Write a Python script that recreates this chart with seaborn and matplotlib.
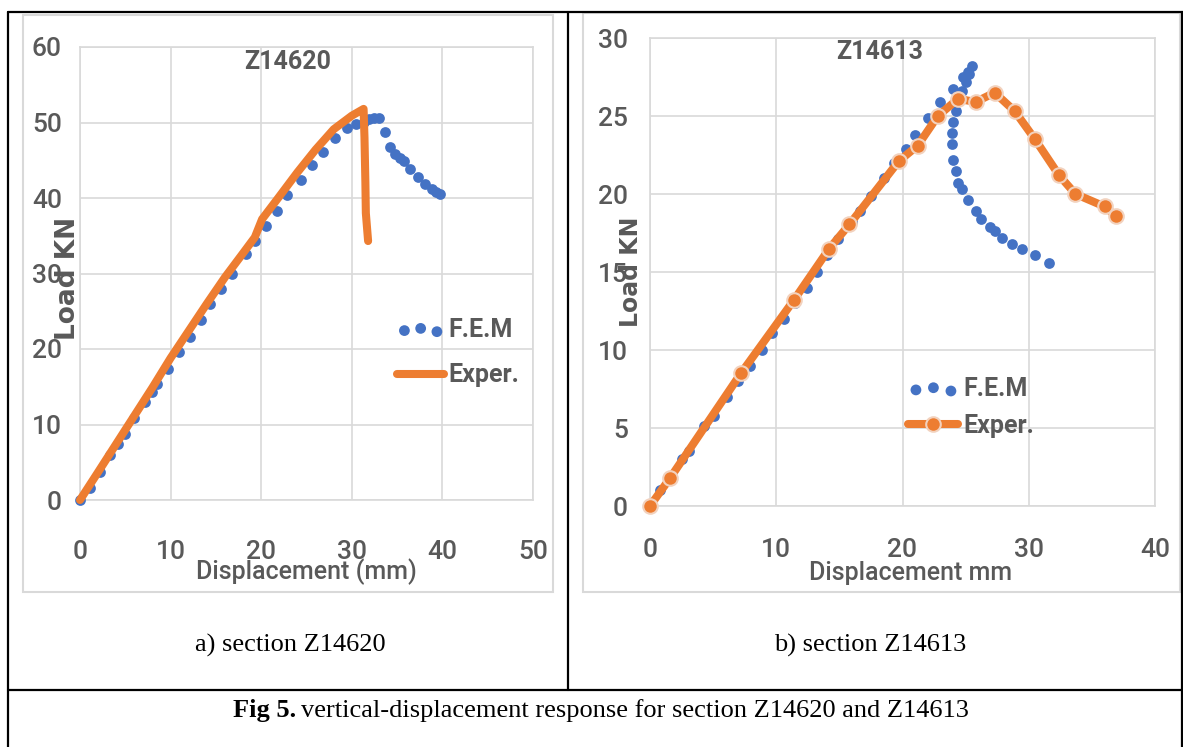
import matplotlib
matplotlib.use("Agg")
import matplotlib.pyplot as plt
import seaborn as sns
import pandas as pd
from matplotlib.lines import Line2D
from matplotlib.patches import Rectangle

# ---------------- data ----------------
# Section Z14620 (left)
fem_a_x = [0, 1.1, 2.2, 3.35, 4.2, 5.0, 6.0, 7.2, 8.0, 8.5, 9.7, 10.9, 12.1, 13.4, 14.4,
           15.6, 16.8, 18.3, 19.3, 20.5, 21.7, 22.9, 24.4, 25.6, 26.8, 28.1, 29.5, 30.5,
           31.3, 31.9, 32.4, 33.0, 33.7, 34.2, 34.8, 35.3, 35.8, 36.4, 37.3, 38.1, 38.9,
           39.3, 39.7]
fem_a_y = [0, 1.6, 3.7, 5.9, 7.4, 8.8, 10.8, 13.0, 14.3, 15.3, 17.3, 19.6, 21.6, 23.9, 25.9,
           28.0, 30.0, 32.6, 34.3, 36.3, 38.3, 40.4, 42.4, 44.4, 46.1, 47.9, 49.3, 49.8,
           50.1, 50.4, 50.6, 50.6, 48.7, 46.8, 45.8, 45.3, 44.9, 43.8, 42.8, 41.9, 41.2,
           40.8, 40.5]
exp_a_x = [0, 2, 5, 8, 10, 12, 14, 16, 18, 19.3, 20.1, 22, 24, 26, 28, 30, 31.3,
           31.4, 31.5, 31.55, 31.8]
exp_a_y = [0, 3.7, 9.3, 14.9, 18.8, 22.4, 26.0, 29.5, 32.7, 34.8, 37.2, 40.2, 43.4, 46.4,
           49.1, 50.9, 51.8, 48.0, 42.0, 38.0, 34.3]

# Section Z14613 (right)
fem_b_x = [0, 0.8, 2.5, 3.1, 4.3, 5.1, 6.1, 7.0, 7.9, 8.9, 9.7, 10.6, 11.5, 12.4, 13.2, 14.0,
           14.9, 16.0, 16.6, 17.5, 18.5, 19.3, 20.3, 21.0, 22.0, 23.0, 24.0, 24.8, 25.2, 25.5,
           25.3, 25.0, 24.7, 24.4, 24.2, 24.0, 23.9, 23.9, 24.0, 24.2, 24.4, 24.7, 25.2, 25.8,
           26.2, 26.9, 27.3, 27.9, 28.7, 29.5, 30.5, 31.6]
fem_b_y = [0, 1.0, 3.0, 3.5, 5.1, 5.8, 7.0, 8.0, 9.0, 10.0, 11.1, 12.0, 13.0, 14.0, 15.0, 16.1,
           17.1, 18.2, 18.9, 19.9, 21.0, 22.0, 22.9, 23.8, 24.9, 25.9, 26.7, 27.5, 27.8, 28.2,
           27.7, 27.2, 26.6, 26.0, 25.3, 24.6, 23.9, 23.2, 22.2, 21.5, 20.7, 20.3, 19.6, 18.9,
           18.4, 17.9, 17.6, 17.2, 16.8, 16.5, 16.1, 15.6]
exp_b_x = [0, 1.6, 7.2, 11.4, 14.2, 15.8, 19.7, 21.2, 22.8, 24.4, 25.8, 27.3, 28.9, 30.5,
           32.4, 33.7, 36.0, 36.9]
exp_b_y = [0, 1.8, 8.5, 13.2, 16.5, 18.05, 22.1, 23.1, 25.0, 26.1, 25.9, 26.5, 25.3, 23.5,
           21.2, 20.0, 19.2, 18.6]

a_xticks = [0, 10, 20, 30, 40, 50]
a_yticks = [0, 10, 20, 30, 40, 50, 60]
b_xticks = [0, 10, 20, 30, 40]
b_yticks = [0, 5, 10, 15, 20, 25, 30]

# ---------------- style ----------------
sns.set_style("white")
plt.rcParams["font.family"] = ["Liberation Sans Narrow", "Roboto", "DejaVu Sans"]

BLUE = "#4472C4"
ORANGE = "#ED7D31"
GRID = "#D9D9D9"
TXT = "#595959"

W, H = 1183, 747
fig = plt.figure(figsize=(W / 100, H / 100), dpi=100)


def fx(px):
    return px / W


def fy(py):
    return (H - py) / H


def make_axes(x0, x1, ytop, ybot):
    return fig.add_axes([fx(x0), fy(ybot), fx(x1) - fx(x0), fy(ytop) - fy(ybot)])


# chart outer borders (light gray)
for (x0, y0, x1, y1) in [(23, 15, 553, 592), (583, 13, 1180, 592)]:
    fig.add_artist(Rectangle((fx(x0), fy(y1)), fx(x1) - fx(x0), fy(y0) - fy(y1),
                             transform=fig.transFigure, fill=False,
                             edgecolor=GRID, linewidth=1.5))

# table lines (black)
for (xs, ys) in [((8, 1183), (12, 12)), ((8, 8), (12, 747)), ((568, 568), (12, 690)),
                 ((8, 1183), (690, 690)), ((1182, 1182), (12, 747))]:
    fig.add_artist(Line2D([fx(xs[0]), fx(xs[1])], [fy(ys[0]), fy(ys[1])],
                          transform=fig.transFigure, color="black", linewidth=1.6))


def style_axes(ax, xlim, ylim, xticks, yticks, xpad, ypad):
    ax.set_xlim(*xlim)
    ax.set_ylim(*ylim)
    ax.set_xticks(xticks)
    ax.set_yticks(yticks)
    ax.grid(True, color=GRID, linewidth=1.2)
    ax.set_axisbelow(True)
    for s in ax.spines.values():
        s.set_color(GRID)
        s.set_linewidth(1.2)
    ax.tick_params(axis="x", length=0, pad=xpad, labelsize=19, labelcolor=TXT)
    ax.tick_params(axis="y", length=0, pad=ypad, labelsize=19, labelcolor=TXT)
    for lab in ax.get_xticklabels() + ax.get_yticklabels():
        lab.set_fontweight("medium")


# ---------------- left chart ----------------
axA = make_axes(80, 533, 47, 500)
dfa_f = pd.DataFrame({"x": fem_a_x, "y": fem_a_y})
dfa_e = pd.DataFrame({"x": exp_a_x, "y": exp_a_y})
sa = sns.scatterplot(data=dfa_f, x="x", y="y", ax=axA, color=BLUE, s=60, linewidth=0,
                     label="F.E.M", legend=False, zorder=3)
sns.lineplot(data=dfa_e, x="x", y="y", ax=axA, color=ORANGE, linewidth=5.8, sort=False,
             estimator=None, label="Exper.", legend=False, zorder=4,
             solid_capstyle="round", solid_joinstyle="round")
style_axes(axA, (0, 50), (0, 60), a_xticks, a_yticks, 29, 13)
axA.set_xlabel("Displacement (mm)", fontsize=18, color=TXT, fontweight="medium")
axA.xaxis.set_label_coords(0.50, -0.128)
axA.set_ylabel("Load KN", fontsize=19, color=TXT, fontweight="bold", family="DejaVu Sans")
axA.yaxis.set_label_coords(0.003, 0.49)
axA.text(0.459, 0.967, "Z14620", transform=axA.transAxes, ha="center", va="center",
         fontsize=18, color=TXT, fontweight="bold")
hA, lA = axA.get_legend_handles_labels()
legA = axA.legend(hA, lA, loc="center left", bbox_to_anchor=(0.672, 0.325), frameon=False,
                  fontsize=18, labelcolor=TXT, scatterpoints=3, handlelength=1.9,
                  handletextpad=0.15, labelspacing=0.85, borderpad=0)
for t in legA.get_texts():
    t.set_fontweight("bold")
for ln in axA.lines:
    ln.set_clip_on(False)
sa.collections[0].set_clip_on(False)

# ---------------- right chart ----------------
axB = make_axes(650, 1155, 38, 506)
dfb_f = pd.DataFrame({"x": fem_b_x, "y": fem_b_y})
dfb_e = pd.DataFrame({"x": exp_b_x, "y": exp_b_y})
sb = sns.scatterplot(data=dfb_f, x="x", y="y", ax=axB, color=BLUE, s=60, linewidth=0,
                     label="F.E.M", legend=False, zorder=3)
sns.lineplot(data=dfb_e, x="x", y="y", ax=axB, color=ORANGE, linewidth=5.8, sort=False,
             estimator=None, label="Exper.", legend=False, zorder=4, marker="o",
             markersize=10.5, markeredgecolor="#F2D2BE", markeredgewidth=1.5,
             solid_capstyle="round", solid_joinstyle="round")
style_axes(axB, (0, 40), (0, 30), b_xticks, b_yticks, 23, 16)
axB.set_xlabel("Displacement mm", fontsize=18, color=TXT, fontweight="medium")
axB.xaxis.set_label_coords(0.515, -0.118)
axB.set_ylabel("Load KN", fontsize=17, color=TXT, fontweight="bold", family="DejaVu Sans")
axB.yaxis.set_label_coords(-0.014, 0.50)
axB.text(0.455, 0.970, "Z14613", transform=axB.transAxes, ha="center", va="center",
         fontsize=18, color=TXT, fontweight="bold")
hB, lB = axB.get_legend_handles_labels()
legB = axB.legend(hB, lB, loc="center left", bbox_to_anchor=(0.487, 0.21), frameon=False,
                  fontsize=18, labelcolor=TXT, scatterpoints=3, handlelength=2.0,
                  handletextpad=0.2, labelspacing=0.5, borderpad=0)
for t in legB.get_texts():
    t.set_fontweight("bold")
for ln in axB.lines:
    ln.set_clip_on(False)
sb.collections[0].set_clip_on(False)

# ---------------- captions ----------------
SERIF = ["Liberation Serif", "DejaVu Serif"]
fig.text(fx(290), fy(645), "a) section Z14620", ha="center", va="center",
         fontsize=19, family=SERIF, color="black")
fig.text(fx(870), fy(645), "b) section Z14613", ha="center", va="center",
         fontsize=19, family=SERIF, color="black")

renderer = fig.canvas.get_renderer()
t1 = fig.text(fx(233), fy(711), "Fig 5.", ha="left", va="center", fontsize=19,
              family=SERIF, fontweight="bold", color="black")
bb = t1.get_window_extent(renderer=renderer)
fig.text((bb.x1 + 5) / W, fy(711), "vertical-displacement response for section Z14620 and Z14613",
         ha="left", va="center", fontsize=19, family=SERIF, color="black")

fig.savefig("out.png", dpi=100)
